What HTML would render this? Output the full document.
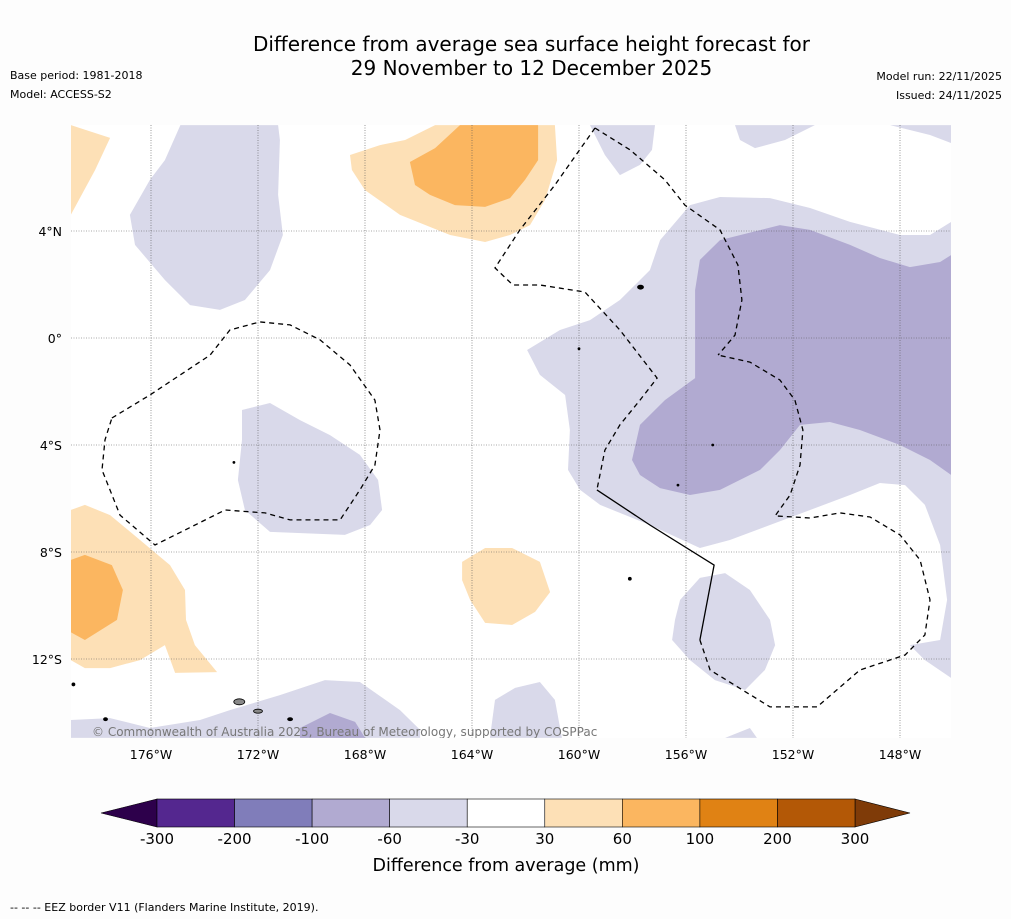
<!DOCTYPE html>
<html><head><meta charset="utf-8"><style>
body{margin:0;background:#fdfdfd;font-family:"DejaVu Sans","Liberation Sans",sans-serif;}
#wrap{position:relative;width:1011px;height:919px;overflow:hidden;background:#fdfdfd}
.t{position:absolute;color:#000}
</style></head><body>
<div id="wrap">
<div class="t" style="left:0;width:1063px;top:32px;text-align:center;font-size:20px;line-height:24px">Difference from average sea surface height forecast for<br>29 November to 12 December 2025</div>
<div class="t" style="left:10px;top:69px;font-size:11px">Base period: 1981-2018</div>
<div class="t" style="left:10px;top:88px;font-size:11px">Model: ACCESS-S2</div>
<div class="t" style="right:9px;top:70px;font-size:11px">Model run: 22/11/2025</div>
<div class="t" style="right:9px;top:89px;font-size:11px">Issued: 24/11/2025</div>
<svg id="map" width="1011" height="919" style="position:absolute;left:0;top:0" font-family="DejaVu Sans, Liberation Sans, sans-serif"></svg>
<div class="t" style="left:10px;top:901px;font-size:11px">--  --  -- EEZ border V11 (Flanders Marine Institute, 2019).</div>
</div>
<script>
const levels=[-300,-200,-100,-60,-30,30,60,100,200,300];
const levelColors=["#54278f","#807dba","#b1aad1","#d9d9ea","#ffffff","#fde0b6","#fbb660","#e08214","#b35806"];
const lonTicks=[-176,-172,-168,-164,-160,-156,-152,-148];
const latTicks=[4,0,-4,-8,-12];
const lonLabels=["176°W","172°W","168°W","164°W","160°W","156°W","152°W","148°W"];
const latLabels=["4°N","0°","4°S","8°S","12°S"];
const shapes=[
 {c:"#d9d9ea",p:[[-174.9,7.96],[-171.25,7.96],[-171.18,7.4],[-171.25,5.35],[-171.07,3.85],[-171.55,2.54],[-172.49,1.42],[-173.42,1.05],[-174.54,1.23],[-175.48,2.17],[-176.6,3.48],[-176.79,4.6],[-176.04,5.91],[-175.48,6.65]]},
 {c:"#fde0b6",p:[[-179,7.96],[-177.53,7.48],[-178.09,6.28],[-179,4.6]]},
 {c:"#fde0b6",p:[[-168.56,6.84],[-167.44,7.21],[-166.5,7.4],[-165.38,7.96],[-160.9,7.96],[-160.82,6.65],[-161.27,5.16],[-161.83,4.22],[-162.58,3.85],[-163.51,3.59],[-164.82,3.85],[-166.69,4.6],[-168,5.53],[-168.49,6.28]]},
 {c:"#fbb660",p:[[-166.32,6.58],[-165.38,7.1],[-164.45,7.96],[-161.53,7.96],[-161.53,6.65],[-162.02,5.91],[-162.58,5.23],[-163.51,4.9],[-164.64,4.97],[-165.57,5.35],[-166.13,5.72]]},
 {c:"#d9d9ea",p:[[-159.59,7.96],[-157.16,7.96],[-157.27,7.03],[-157.72,6.47],[-158.47,6.09],[-159.03,6.84]]},
 {c:"#d9d9ea",p:[[-154.17,7.96],[-151.18,7.96],[-152.3,7.4],[-153.42,7.1],[-153.98,7.4]]},
 {c:"#d9d9ea",p:[[-148.37,7.96],[-146.09,7.96],[-146.09,7.29],[-146.88,7.59]]},
 {c:"#d9d9ea",p:[[-161.94,-0.45],[-160.71,0.3],[-159.59,0.67],[-158.47,1.42],[-157.35,2.54],[-156.97,3.66],[-155.85,4.97],[-154.73,5.27],[-152.86,5.23],[-151.36,4.86],[-149.87,4.34],[-148,3.85],[-146.88,3.85],[-146.09,4.34],[-146.09,-12.71],[-147.07,-12.04],[-147.63,-11.48],[-146.5,-11.29],[-146.24,-9.79],[-146.5,-7.74],[-147.07,-6.24],[-147.81,-5.5],[-148.75,-5.42],[-149.87,-5.87],[-151.36,-6.43],[-152.86,-6.99],[-154.36,-7.55],[-155.48,-7.85],[-157.35,-6.99],[-159.21,-6.24],[-159.96,-5.68],[-160.41,-4.93],[-160.34,-3.44],[-160.52,-2.13],[-161.46,-1.38]]},
 {c:"#b1aad1",p:[[-155.66,1.79],[-155.48,2.92],[-154.73,3.66],[-152.49,4.22],[-151.36,4.04],[-149.87,3.48],[-148.75,2.99],[-147.63,2.65],[-146.5,2.84],[-146.09,3.1],[-146.09,-5.12],[-146.88,-4.56],[-148,-4],[-149.5,-3.44],[-150.62,-3.14],[-151.74,-3.25],[-152.49,-4.19],[-153.23,-4.93],[-154.73,-5.68],[-155.85,-5.87],[-156.97,-5.61],[-157.72,-5.12],[-158.02,-4.56],[-157.72,-3.25],[-156.79,-2.32],[-155.66,-1.5]]},
 {c:"#d9d9ea",p:[[-172.6,-2.69],[-171.55,-2.43],[-170.43,-3.07],[-169.31,-3.63],[-168.19,-4.37],[-167.51,-5.31],[-167.36,-6.43],[-167.81,-6.99],[-168.75,-7.36],[-171.55,-7.25],[-172.49,-6.43],[-172.75,-5.31],[-172.6,-3.81]]},
 {c:"#fde0b6",p:[[-179,-6.43],[-178.47,-6.24],[-177.53,-6.62],[-176.41,-7.55],[-175.29,-8.49],[-174.73,-9.42],[-174.69,-10.54],[-174.36,-11.48],[-173.53,-12.49],[-175.1,-12.52],[-175.48,-11.48],[-176.41,-12.04],[-177.53,-12.34],[-178.47,-12.34],[-179,-12.04]]},
 {c:"#fbb660",p:[[-179,-8.3],[-178.47,-8.11],[-177.46,-8.49],[-177.05,-9.42],[-177.27,-10.54],[-178.47,-11.29],[-179,-11]]},
 {c:"#fde0b6",p:[[-164.37,-8.37],[-163.51,-7.85],[-162.5,-7.85],[-161.46,-8.37],[-161.08,-9.5],[-161.64,-10.24],[-162.5,-10.73],[-163.51,-10.65],[-164.07,-9.79],[-164.37,-9.05]]},
 {c:"#d9d9ea",p:[[-156.22,-9.79],[-155.48,-8.97],[-154.54,-8.79],[-153.61,-9.42],[-152.86,-10.54],[-152.67,-11.48],[-153.05,-12.41],[-153.79,-13.16],[-154.92,-12.79],[-155.85,-12.04],[-156.52,-11.29],[-156.41,-10.54]]},
 {c:"#d9d9ea",p:[[-173.05,-13.91],[-171.18,-13.35],[-169.5,-12.79],[-168.19,-12.86],[-166.69,-13.91],[-165.94,-14.65],[-165.94,-14.95],[-179,-14.95],[-179,-14.28],[-177.53,-14.21],[-176.04,-14.58],[-174.17,-14.28]]},
 {c:"#b1aad1",p:[[-170.43,-14.58],[-169.31,-14.02],[-168.37,-14.35],[-168,-14.95],[-170.43,-14.95]]},
 {c:"#d9d9ea",p:[[-163.33,-14.95],[-163.14,-13.53],[-162.39,-13.08],[-161.46,-12.86],[-160.9,-13.53],[-160.64,-14.95]]},
 {c:"#d9d9ea",p:[[-154.54,-14.95],[-153.61,-14.58],[-153.35,-14.95]]}
];
const eezDashed=[
 [[-177.46,-2.99],[-176.04,-2.13],[-173.79,-0.64],[-173.05,0.3],[-171.93,0.6],[-170.8,0.49],[-169.68,-0.07],[-168.56,-1.01],[-167.63,-2.32],[-167.44,-3.44],[-167.63,-4.75],[-168.19,-5.68],[-168.93,-6.8],[-170.8,-6.8],[-171.74,-6.54],[-173.23,-6.43],[-175.85,-7.74],[-177.16,-6.62],[-177.83,-4.93],[-177.72,-3.81],[-177.46,-2.99]],
 [[-159.4,7.85],[-158.09,7.03],[-156.79,5.91],[-156.04,4.97],[-154.73,4.04],[-154.06,2.73],[-153.91,1.42],[-154.17,0.11],[-154.8,-0.64]],
 [[-159.4,7.85],[-160.9,5.72],[-162.21,4.04],[-163.14,2.62],[-162.47,1.98],[-161.46,1.98],[-159.78,1.72],[-158.47,0.3],[-157.08,-1.5],[-157.72,-2.32],[-158.47,-3.25],[-159.03,-4.19],[-159.33,-5.68]],
 [[-155.48,-11.29],[-155.1,-12.41],[-152.86,-13.79],[-151.1,-13.79],[-149.5,-12.41],[-147.81,-11.85],[-147.07,-11.1],[-146.88,-9.79],[-147.25,-8.3],[-148,-7.36],[-149.12,-6.69],[-150.24,-6.54],[-151.36,-6.73],[-152.67,-6.65],[-152.11,-5.87],[-151.74,-4.75],[-151.63,-3.44],[-151.93,-2.32],[-152.49,-1.57],[-153.61,-0.9],[-154.8,-0.64]]
];
const eezSolid=[[-159.33,-5.68],[-157.35,-6.99],[-154.95,-8.49],[-155.48,-11.29]];
const islands=[[-172.7,-13.6,10,5],[-172.0,-13.95,8,3],[-170.8,-14.25,4,2],[-177.7,-14.25,3,2],[-178.9,-12.95,2,2],[-157.7,1.9,5,3],[-160,-0.4,1,1],[-158.1,-9.0,2,2],[-156.3,-5.5,1,1],[-155.0,-4.0,1,1],[-172.9,-4.65,1,1]];

const NS="http://www.w3.org/2000/svg";
const svg=document.getElementById('map');
const X0=151,LON0=-176,K=26.75,Y0=338;
const xs=lon=>X0+(lon-LON0)*K;
const ys=lat=>Y0-lat*K;
const L=71,R=951,T=125,B=738;
function el(tag,attrs,parent){const e=document.createElementNS(NS,tag);for(const k in attrs)e.setAttribute(k,attrs[k]);(parent||svg).appendChild(e);return e;}
const defs=el('defs',{});
const cp=el('clipPath',{id:'clip'},defs);el('rect',{x:L,y:T,width:R-L,height:B-T},cp);
const g=el('g',{'clip-path':'url(#clip)'});


const bg=el('rect',{x:L,y:T,width:R-L,height:B-T,fill:'#fff'},g);


const pts=a=>a.map(p=>xs(p[0]).toFixed(1)+','+ys(p[1]).toFixed(1)).join(' ');
shapes.forEach((s,i)=>{const e=el('polygon',{points:pts(s.p),fill:s.c,stroke:'none'},g);
 
 });
lonTicks.forEach((v,i)=>{const x=xs(v);const l=el('line',{x1:x,x2:x,y1:T,y2:B,stroke:'#555','stroke-width':0.6,'stroke-dasharray':'1,1.5'},g);
 
 
 const t=el('text',{x:x,y:759,'font-size':12.5,'text-anchor':'middle'});t.textContent=lonLabels[i];
 
 });
latTicks.forEach((v,i)=>{const y=ys(v);const l=el('line',{x1:L,x2:R,y1:y,y2:y,stroke:'#555','stroke-width':0.6,'stroke-dasharray':'1,1.5'},g);
 
 
 const t=el('text',{x:62,y:y+5,'font-size':12.5,'text-anchor':'end'});t.textContent=latLabels[i];
 
 });
eezDashed.forEach(a=>{const e=el('polyline',{points:pts(a),fill:'none',stroke:'#000','stroke-width':1.3,'stroke-dasharray':'5,4'},g);
 
 });
const es=el('polyline',{points:pts(eezSolid),fill:'none',stroke:'#000','stroke-width':1.3},g);


islands.forEach(d=>{const e=el('ellipse',{cx:xs(d[0]),cy:ys(d[1]),rx:d[2]/2+0.5,ry:d[3]/2+0.5,fill:d[2]>5?'#888':'#000',stroke:'#000','stroke-width':0.8},g);
 
 });
const cr=el('text',{x:92,y:736,'font-size':12,fill:'#777'},g);cr.textContent='© Commonwealth of Australia 2025, Bureau of Meteorology, supported by COSPPac';


const cbL=157,cbR=855,cbT=799,cbB=827,n=levels.length-1,w=(cbR-cbL)/n;
const lt=el('polygon',{points:`${cbL},${cbT} ${cbL},${cbB} 101,813`,fill:'#2d004b',stroke:'#000','stroke-width':0.6});


const rt=el('polygon',{points:`${cbR},${cbT} ${cbR},${cbB} 910,813`,fill:'#7f3b08',stroke:'#000','stroke-width':0.6});


for(let i=0;i<n;i++){const r=el('rect',{x:cbL+i*w,y:cbT,width:w,height:cbB-cbT,fill:levelColors[i],stroke:'#000','stroke-width':0.6});
 
 }
levels.forEach((v,i)=>{const t=el('text',{x:cbL+i*w,y:844,'font-size':15,'text-anchor':'middle'});t.textContent=v;
 
 });
const ct=el('text',{x:506,y:871,'font-size':17.5,'text-anchor':'middle'});ct.textContent='Difference from average (mm)';


</script>
</body></html>
